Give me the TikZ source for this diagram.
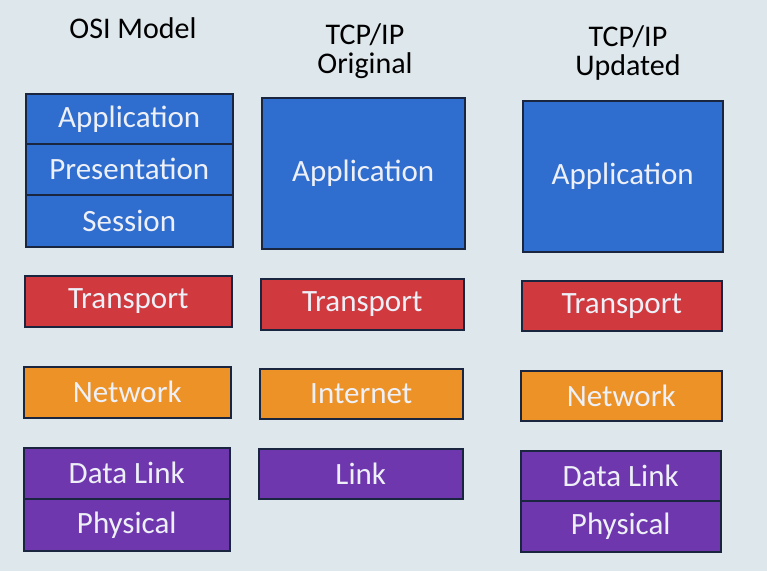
\documentclass[tikz,border=0pt]{standalone}
\usepackage{fontspec}
\setmainfont{Carlito}
\definecolor{bg}{HTML}{DDE7EC}
\definecolor{lblue}{HTML}{2F6DCF}
\definecolor{lred}{HTML}{D03A3E}
\definecolor{lorange}{HTML}{EC9227}
\definecolor{lpurple}{HTML}{6F37AE}
\definecolor{edge}{HTML}{1A2540}
\definecolor{ltext}{HTML}{EEF0F8}
\begin{document}
\begin{tikzpicture}[x=1pt,y=-1pt,
  layer/.style={draw=edge,line width=1.5pt,text=ltext,font=\fontsize{31}{36}\selectfont},
  title/.style={font=\fontsize{30}{29}\selectfont,align=center,text=black}]
\fill[bg] (0,0) rectangle (767,571);
\useasboundingbox (0,0) rectangle (767,571);
% helper macro for layer boxes
\newcommand{\lay}[7]{\node[layer,fill=#6,minimum width={#3-#2},minimum height={#5-#4},inner sep=0pt,anchor=north west] (#1) at (#2,#4) {#7};}
% titles
\node[title] (t1) at (133,28) {OSI Model};
\node[title] (t2) at (365,51) {TCP/IP\\Original};
\node[title] (t3) at (628,53) {TCP/IP\\Updated};
% OSI column
\lay{oa}{25}{232}{93}{143}{lblue}{Application}
\lay{op}{25}{232}{143}{194}{lblue}{Presentation}
\lay{os}{25}{232}{194}{246}{lblue}{Session}
\lay{ot}{24}{231}{275}{326}{lred}{Transport}
\lay{on}{23}{230}{366}{417}{lorange}{Network}
\lay{od}{23}{229}{447}{498}{lpurple}{Data Link}
\lay{oh}{23}{229}{498}{550}{lpurple}{Physical}
% TCP/IP original
\lay{ga}{261}{464}{97}{248}{lblue}{Application}
\lay{gt}{260}{463}{278}{329}{lred}{Transport}
\lay{gi}{259}{462}{368}{418}{lorange}{Internet}
\lay{gl}{258}{462}{448}{498}{lpurple}{Link}
% TCP/IP updated
\lay{ua}{522}{722}{100}{251}{lblue}{Application}
\lay{ut}{521}{721}{280}{330}{lred}{Transport}
\lay{un}{520}{721}{370}{420}{lorange}{Network}
\lay{ud}{520}{720}{450}{500}{lpurple}{Data Link}
\lay{uh}{520}{720}{500}{551}{lpurple}{Physical}
\end{tikzpicture}
\end{document}
